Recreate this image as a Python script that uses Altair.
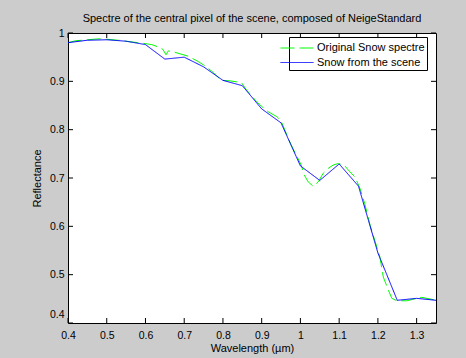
import altair as alt
import pandas as pd

# Blue: snow from the scene (sampled every 0.05 µm)
wl_scene = [0.40, 0.45, 0.50, 0.55, 0.60, 0.65, 0.70, 0.75, 0.80, 0.85,
            0.90, 0.95, 1.00, 1.05, 1.10, 1.15, 1.20, 1.25, 1.30, 1.35]
refl_scene = [0.980, 0.985, 0.986, 0.983, 0.976, 0.946, 0.950, 0.930, 0.902, 0.891,
              0.843, 0.814, 0.725, 0.695, 0.729, 0.683, 0.545, 0.447, 0.451, 0.447]

# Green dashed: original snow spectre (finer sampling)
wl_orig = [0.40, 0.42, 0.45, 0.48, 0.50, 0.53, 0.55, 0.58, 0.60, 0.616,
           0.63, 0.637, 0.645, 0.653, 0.659, 0.672, 0.689, 0.71, 0.736, 0.75,
           0.771, 0.792, 0.80, 0.818, 0.835, 0.842, 0.848, 0.861, 0.887, 0.90,
           0.917, 0.939, 0.95, 0.975, 1.002, 1.01, 1.02, 1.033, 1.046, 1.059,
           1.072, 1.085, 1.098, 1.115, 1.124, 1.141, 1.154, 1.166, 1.18, 1.205,
           1.214, 1.227, 1.236, 1.249, 1.275, 1.29, 1.313, 1.339, 1.35]
refl_orig = [0.980, 0.984, 0.986, 0.988, 0.987, 0.985, 0.983, 0.980, 0.978, 0.976,
             0.972, 0.971, 0.966, 0.955, 0.963, 0.961, 0.957, 0.952, 0.941, 0.934,
             0.921, 0.905, 0.902, 0.901, 0.899, 0.900, 0.897, 0.882, 0.858, 0.848,
             0.837, 0.827, 0.818, 0.770, 0.727, 0.706, 0.692, 0.683, 0.692, 0.710,
             0.720, 0.727, 0.730, 0.725, 0.716, 0.702, 0.678, 0.647, 0.602, 0.537,
             0.495, 0.468, 0.451, 0.446, 0.446, 0.449, 0.453, 0.449, 0.447]

series_names = ["Original Snow spectre", "Snow from the scene"]
series_colors = ["#00ff00", "#0000ff"]
x_ticks = [0.4, 0.5, 0.6, 0.7, 0.8, 0.9, 1.0, 1.1, 1.2, 1.3]
y_ticks = [0.4, 0.5, 0.6, 0.7, 0.8, 0.9, 1.0]

df = pd.concat([
    pd.DataFrame({"wl": wl_orig, "refl": refl_orig, "series": series_names[0]}),
    pd.DataFrame({"wl": wl_scene, "refl": refl_scene, "series": series_names[1]}),
], ignore_index=True)
df_xt = pd.DataFrame({"wl": x_ticks})
df_yt = pd.DataFrame({"refl": y_ticks})

FONT = "Liberation Sans"
W, H = 368, 290
TL = 5

xs = alt.Scale(domain=[0.4, 1.35], nice=False, zero=False)
ys = alt.Scale(domain=[0.4, 1.0], nice=False, zero=False)

legend = alt.Legend(
    orient="none", legendX=221, legendY=4, title=None,
    fillColor="white", strokeColor="black",
    padding=2, symbolType="M-2,0H2", symbolSize=272, symbolStrokeWidth=1,
    symbolOffset=-3, labelOffset=11,
    labelFont=FONT, labelFontSize=11, labelColor="black", labelLimit=0,
    rowPadding=0.5,
)

lines = alt.Chart(df).mark_line(strokeWidth=1, clip=True).encode(
    x=alt.X("wl:Q", scale=xs, title="Wavelength (µm)",
            axis=alt.Axis(values=x_ticks, format="~g", labelPadding=7, titlePadding=2,
                          labelFlush=False)),
    y=alt.Y("refl:Q", scale=ys, title="Reflectance",
            axis=alt.Axis(values=y_ticks, format="~g", labelPadding=4, titlePadding=7,
                          labelFlush=False,
                          labelOffset={"condition": {"test": "datum.value < 0.45", "value": -9},
                                       "value": 0})),
    color=alt.Color("series:N", scale=alt.Scale(domain=series_names, range=series_colors),
                    legend=legend),
    strokeDash=alt.StrokeDash("series:N",
                              scale=alt.Scale(domain=series_names, range=[[14, 5], [1, 0]]),
                              legend=legend),
)

tick_bottom = alt.Chart(df_xt).mark_rule(color="black", strokeWidth=1).encode(
    x=alt.X("wl:Q", scale=xs), y=alt.value(H), y2=alt.value(H - TL))
tick_top = alt.Chart(df_xt).mark_rule(color="black", strokeWidth=1).encode(
    x=alt.X("wl:Q", scale=xs), y=alt.value(0), y2=alt.value(TL))
tick_left = alt.Chart(df_yt).mark_rule(color="black", strokeWidth=1).encode(
    y=alt.Y("refl:Q", scale=ys), x=alt.value(0), x2=alt.value(TL))
tick_right = alt.Chart(df_yt).mark_rule(color="black", strokeWidth=1).encode(
    y=alt.Y("refl:Q", scale=ys), x=alt.value(W - TL), x2=alt.value(W))

chart = alt.layer(lines, tick_bottom, tick_top, tick_left, tick_right).properties(
    width=W, height=H,
    title=alt.TitleParams(
        "Spectre of the central pixel of the scene, composed of NeigeStandard",
        font=FONT, fontSize=11, fontWeight="normal", color="black", anchor="middle", offset=4),
    autosize=alt.AutoSizeParams(type="none"),
    padding={"left": 68, "top": 33, "right": 30, "bottom": 35},
    background="#cccccc",
).configure_view(
    stroke="black", strokeWidth=1, fill="white"
).configure_axis(
    domain=False, ticks=False, grid=False,
    labelFont=FONT, labelFontSize=10.5, labelColor="black",
    titleFont=FONT, titleFontSize=11, titleFontWeight="normal", titleColor="black",
)

chart.save("out.html", embed_options={"renderer": "svg", "actions": False})
